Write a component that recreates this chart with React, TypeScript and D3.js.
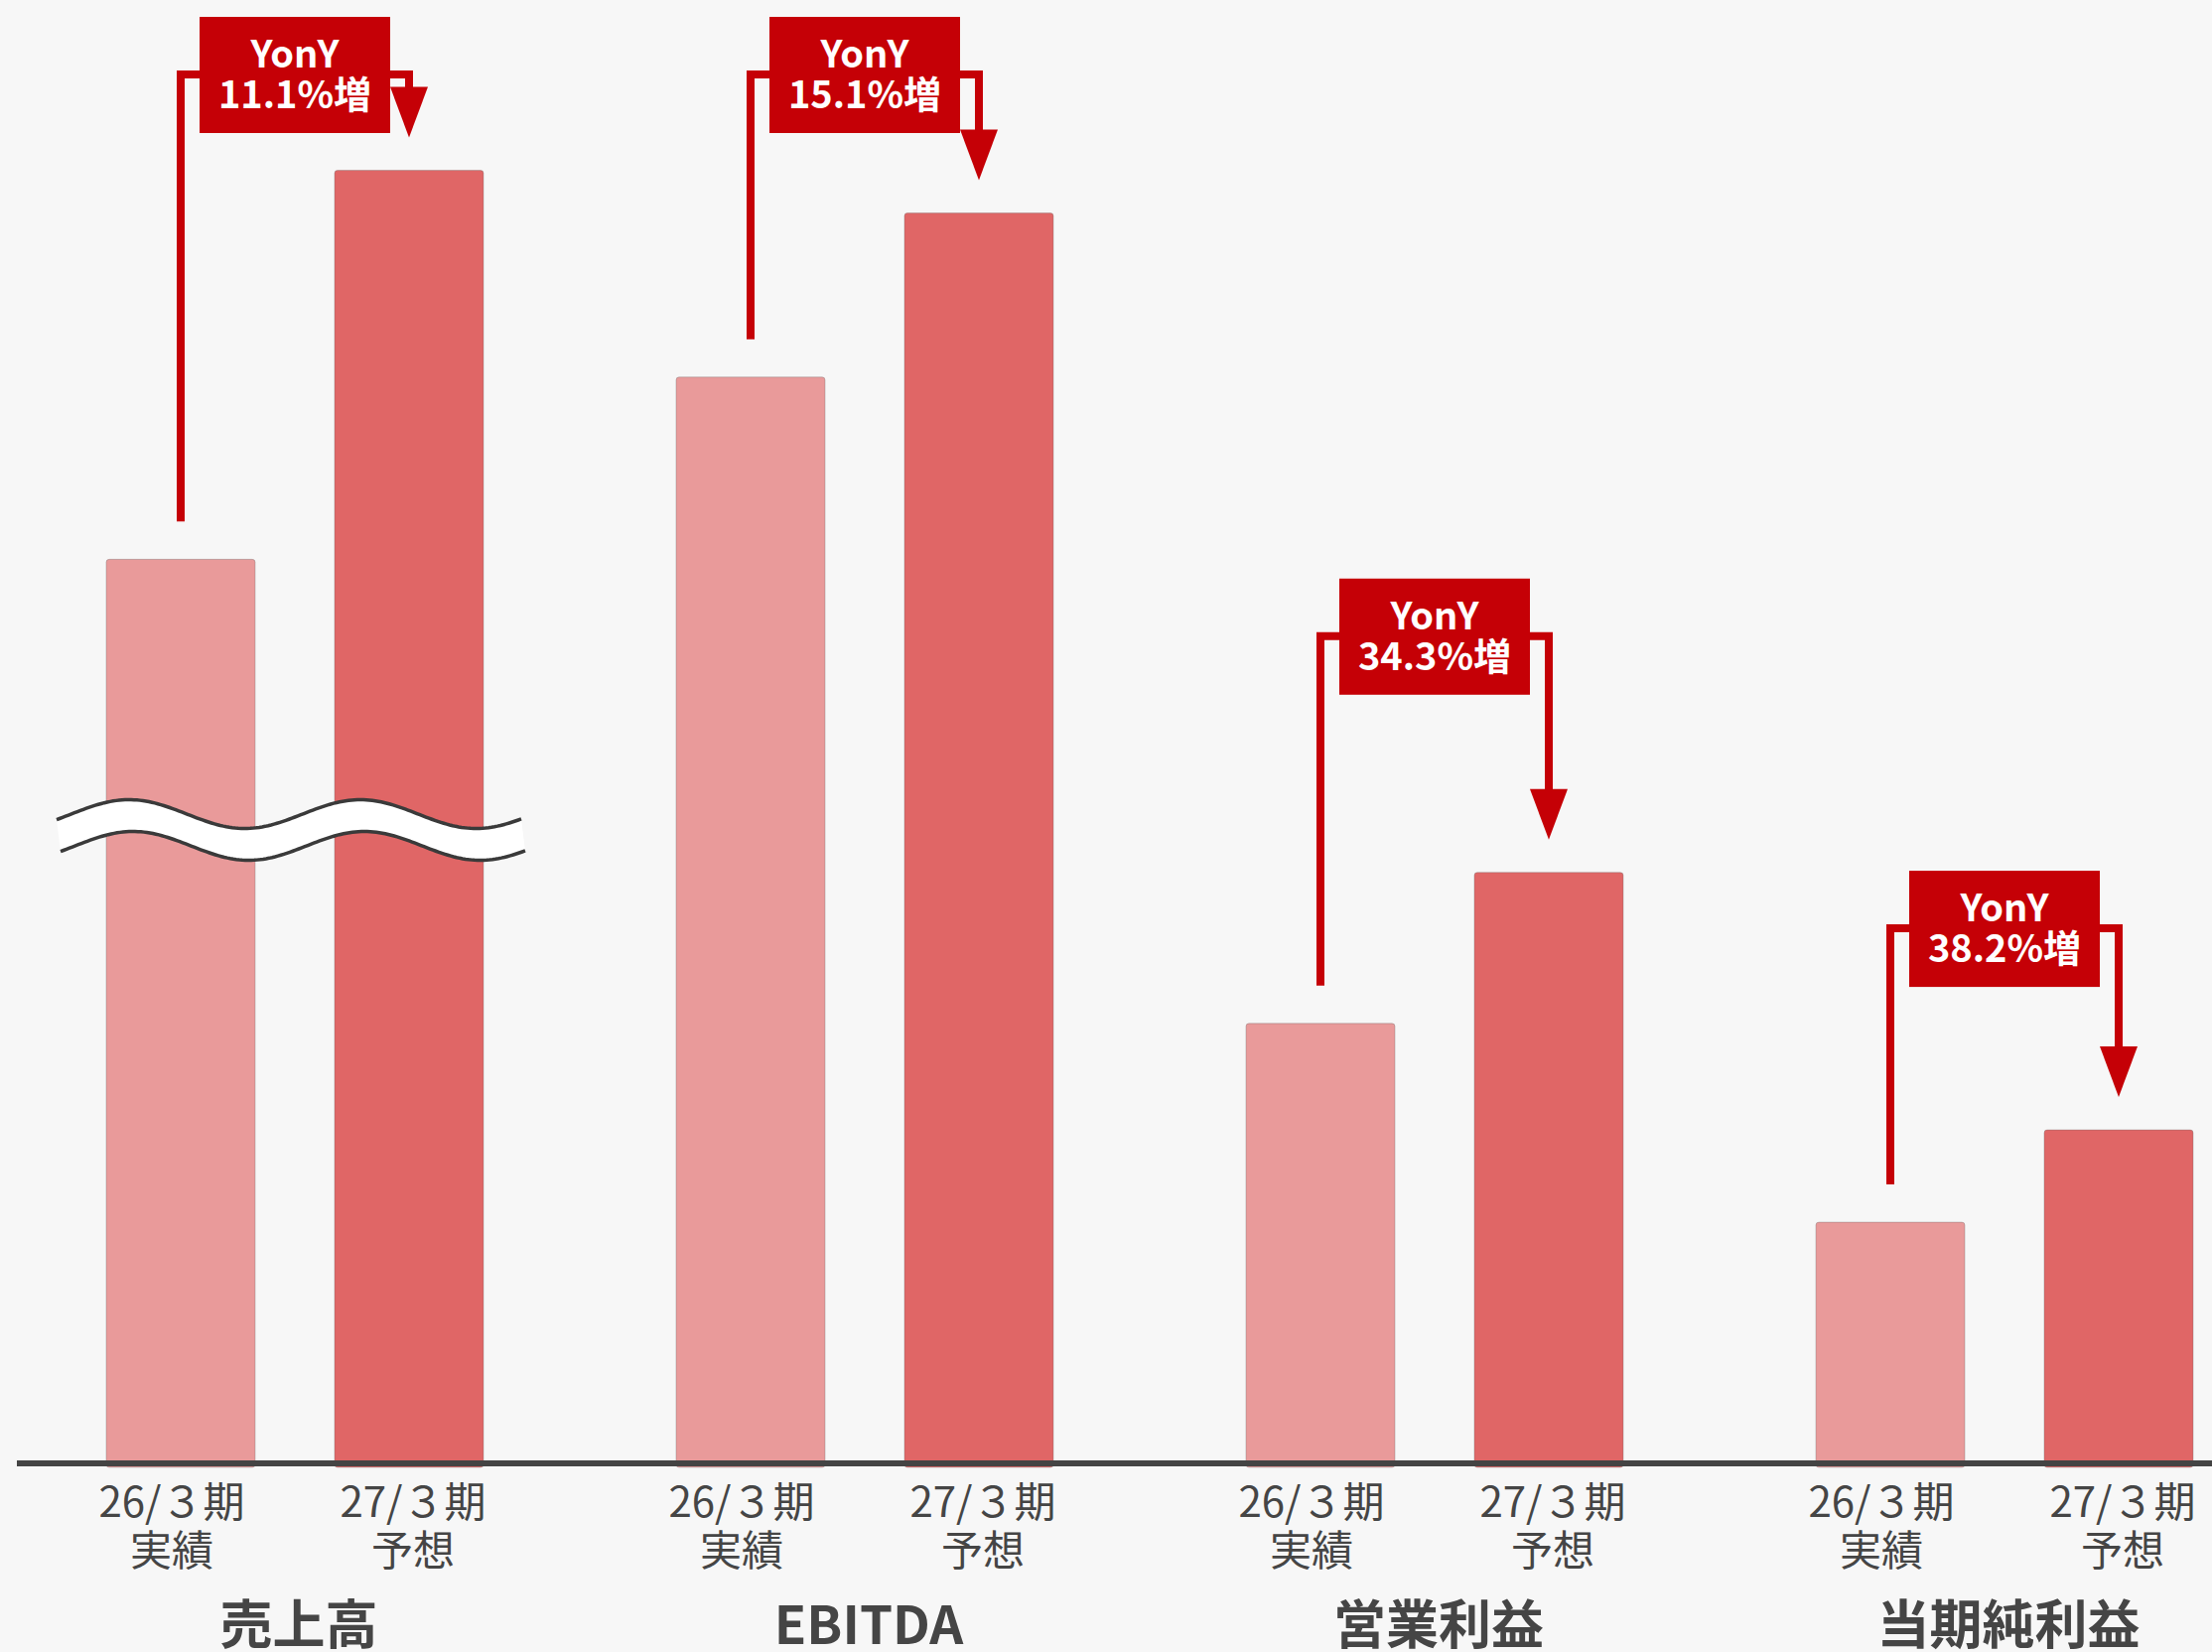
import React, { useEffect, useRef } from 'react';
import * as d3 from 'd3';

// data
const groups = ['売上高', 'EBITDA', '営業利益', '当期純利益'];
const periods = ['26/３期', '27/３期'];
const periodSub = ['実績', '予想'];
const actual26 = [500, 100, 40.5, 22.2];
const forecast27 = [555.5, 115.1, 54.4, 30.7];
const yoyLabels = ['11.1%増', '15.1%増', '34.3%増', '38.2%増'];

// layout
const W = 2228;
const H = 1664;
const axisY = 1474;
const calloutLift = [220, 220, 238, 203];
const FONT = "'Noto Sans CJK JP', 'Noto Sans', sans-serif";
const RED = '#c50006';
const TEXT = '#454545';
const barColors = ['#e99a9a', '#e06666'];

const App: React.FC = () => {
  const svgRef = useRef<SVGSVGElement>(null);

  useEffect(() => {
    if (!svgRef.current) return;
    const svg = d3.select(svgRef.current);
    svg.selectAll('*').remove();

    svg.append('rect').attr('width', W).attr('height', H).attr('fill', '#f7f7f7');

    const x = d3.scalePoint<string>().domain(groups).range([297, 2019]);
    const inner = d3.scaleBand<string>().domain(periods).range([-190, 190]).paddingInner(0.3478);
    const bw = inner.bandwidth();

    // common scale for EBITDA / profits, truncated scale for sales (broken axis)
    const y = d3.scaleLinear().domain([0, 120]).range([axisY, axisY - 1313]);
    const ySales = d3.scaleLinear().domain([371, 557]).range([axisY, axisY - 1313]);
    const yFor = (i: number) => (i === 0 ? ySales : y);

    const rows = groups.map((g, i) => ({ g, i, vals: [actual26[i], forecast27[i]] }));

    // bars
    rows.forEach(r => {
      r.vals.forEach((v, j) => {
        const bx = (x(r.g) as number) + (inner(periods[j]) as number);
        const top = yFor(r.i)(v);
        svg.append('rect')
          .attr('x', bx)
          .attr('y', top)
          .attr('width', bw)
          .attr('height', axisY - top + 4)
          .attr('rx', 3)
          .attr('fill', barColors[j])
          .attr('stroke', 'rgba(110,110,110,0.35)')
          .attr('stroke-width', 1);
      });
    });

    // break mark on sales
    const waveX = d3.range(57, 526, 3);
    const wave = (xx: number, c: number) => c - 14.5 * Math.cos((2 * Math.PI * (xx - 130)) / 233);
    const topPts: [number, number][] = waveX.map(xx => [xx, wave(xx, 820)]);
    const botPts: [number, number][] = waveX.map(xx => [xx + 4, wave(xx, 852)]);
    const line = d3.line();
    svg.append('path')
      .attr('d', line([...topPts, ...botPts.slice().reverse()]) + 'Z')
      .attr('fill', '#ffffff');
    [topPts, botPts].forEach(pts => {
      svg.append('path')
        .attr('d', line(pts))
        .attr('fill', 'none')
        .attr('stroke', '#3a3a3a')
        .attr('stroke-width', 3.5);
    });

    // axis
    svg.append('line')
      .attr('x1', 17).attr('x2', W)
      .attr('y1', axisY).attr('y2', axisY)
      .attr('stroke', '#444').attr('stroke-width', 6);

    // period labels
    const labelShift = [-9, 4];
    rows.forEach(r => {
      periods.forEach((p, j) => {
        const cx = (x(r.g) as number) + (inner(p) as number) + bw / 2 + labelShift[j];
        svg.append('text')
          .attr('x', cx).attr('y', 1528)
          .attr('text-anchor', 'middle')
          .attr('font-family', FONT).attr('font-size', 42)
          .attr('fill', TEXT)
          .text(p);
        svg.append('text')
          .attr('x', cx).attr('y', 1577)
          .attr('text-anchor', 'middle')
          .attr('font-family', FONT).attr('font-size', 42)
          .attr('fill', TEXT)
          .text(periodSub[j]);
      });
      svg.append('text')
        .attr('x', (x(r.g) as number) + 4).attr('y', 1656)
        .attr('text-anchor', 'middle')
        .attr('font-family', FONT).attr('font-size', 53).attr('font-weight', 700)
        .attr('fill', TEXT)
        .text(r.g);
    });

    // YonY callouts
    rows.forEach(r => {
      const cx = x(r.g) as number;
      const x1 = cx + (inner(periods[0]) as number) + bw / 2;
      const x2 = cx + (inner(periods[1]) as number) + bw / 2;
      const top1 = yFor(r.i)(r.vals[0]);
      const top2 = yFor(r.i)(r.vals[1]);
      const ly = Math.max(75, top2 - calloutLift[r.i]);
      const boxL = cx - 96;
      const boxR = cx + 96;
      const tipY = top2 - 33;

      svg.append('path')
        .attr('d', `M${x1},${top1 - 38}L${x1},${ly}L${boxL},${ly}`)
        .attr('fill', 'none').attr('stroke', RED).attr('stroke-width', 8);
      svg.append('path')
        .attr('d', `M${boxR},${ly}L${x2},${ly}L${x2},${tipY - 48}`)
        .attr('fill', 'none').attr('stroke', RED).attr('stroke-width', 8);
      svg.append('path')
        .attr('d', `M${x2 - 19},${tipY - 51}L${x2 + 19},${tipY - 51}L${x2},${tipY}Z`)
        .attr('fill', RED);

      svg.append('rect')
        .attr('x', boxL).attr('y', ly - 58)
        .attr('width', 192).attr('height', 117)
        .attr('fill', RED);
      svg.append('text')
        .attr('x', cx).attr('y', ly - 7)
        .attr('text-anchor', 'middle')
        .attr('font-family', FONT).attr('font-size', 38).attr('font-weight', 700)
        .attr('fill', '#fff')
        .text('YonY');
      svg.append('text')
        .attr('x', cx).attr('y', ly + 34)
        .attr('text-anchor', 'middle')
        .attr('font-family', FONT).attr('font-size', 38).attr('font-weight', 700)
        .attr('fill', '#fff')
        .text(yoyLabels[r.i]);
    });
  }, []);

  return (
    <svg
      ref={svgRef}
      width={W}
      height={H}
      style={{ position: 'absolute', left: 0, top: 0, display: 'block' }}
    />
  );
};

export default App;
